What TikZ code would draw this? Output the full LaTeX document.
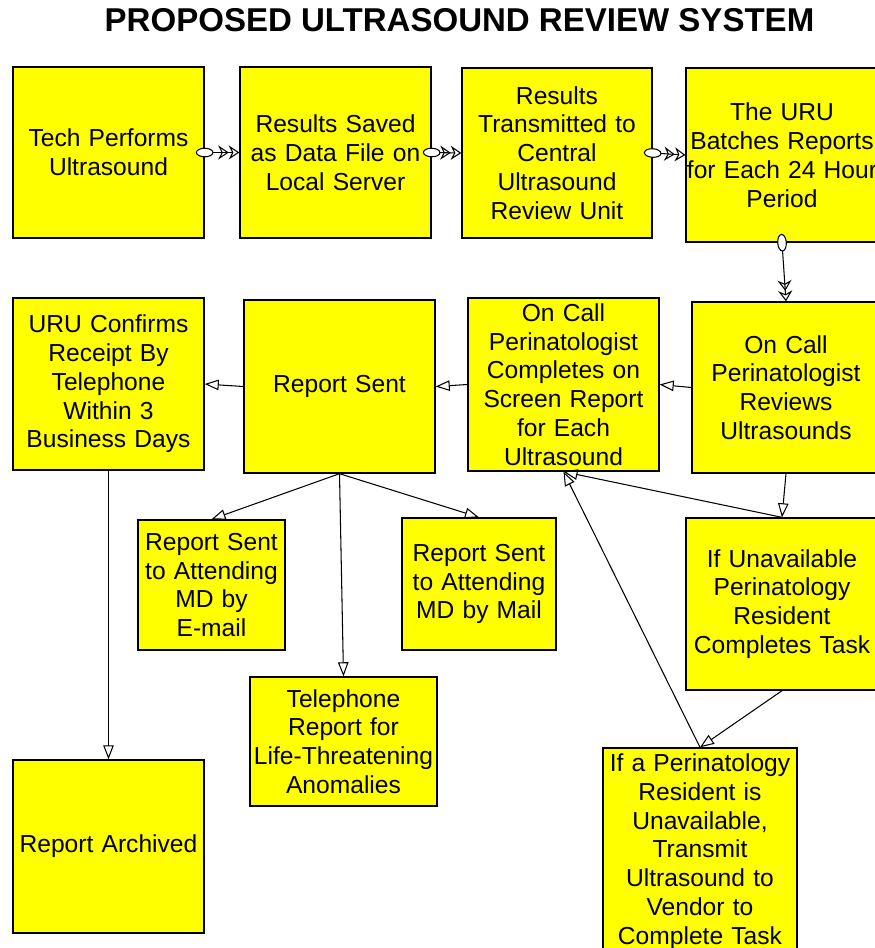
\documentclass[tikz,border=0pt]{standalone}
\usepackage{fontspec}
\setmainfont{Liberation Sans}
\usetikzlibrary{arrows.meta,shadows}
\definecolor{boxyellow}{RGB}{255,255,0}

\begin{document}
\begin{tikzpicture}[x=0.02cm, y=-0.02cm,
  box/.style 2 args={draw, line width=0.8pt, fill=boxyellow, inner sep=0pt,
    text width=#1, minimum height=#2, align=center,
    drop shadow={shadow xshift=0.7pt, shadow yshift=-0.7pt, fill=black!70, opacity=1},
    font=\fontsize{14}{16.4}\selectfont},
  link/.style={line width=0.6pt, shorten <=-5pt,
    {Ellipse[open, fill=white, length=10pt, width=5.5pt]}-{Stealth[open, length=6pt, width=8pt] Stealth[open, length=6pt, width=8pt]}},
  flow/.style={line width=0.6pt, -{Triangle[open, length=8pt, width=6pt]}}]
\useasboundingbox (0,0) rectangle (875,948);
\clip (0,0) rectangle (875,948);

\node (title) at (459.5,20) {\fontsize{18.8}{20}\selectfont\bfseries PROPOSED ULTRASOUND REVIEW SYSTEM};

% first row
\node (tech)[box={3.82cm}{3.42cm}] at (108.5,152.5) {Tech Performs\\Ultrasound};
\node (saved)[box={3.82cm}{3.42cm}] at (335.5,152.5) {Results Saved\\as Data File on\\Local Server};
\node (trans)[box={3.80cm}{3.40cm}] at (557,153) {Results\\Transmitted to\\Central\\Ultrasound\\Review Unit};
\node (batch)[box={3.84cm}{3.48cm}] at (782,155) {The URU\\Batches Reports\\for Each 24 Hour\\Period};

% second row
\node (confirm)[box={3.82cm}{3.44cm}] at (108.5,384) {URU Confirms\\Receipt By\\Telephone\\Within 3\\Business Days};
\node (sent)[box={3.82cm}{3.46cm}] at (339.5,386.5) {Report Sent};
\node (completes)[box={3.82cm}{3.46cm}] at (563.5,384.5) {On Call\\Perinatologist\\Completes on\\Screen Report\\for Each\\Ultrasound};
\node (reviews)[box={3.76cm}{3.42cm}] at (786,387.5) {On Call\\Perinatologist\\Reviews\\Ultrasounds};

% third row
\node (email)[box={2.94cm}{2.60cm}] at (211.5,585) {Report Sent\\to Attending\\MD by\\E-mail};
\node (mail)[box={3.08cm}{2.64cm}] at (479,584) {Report Sent\\to Attending\\MD by Mail};
\node (phone)[box={3.74cm}{2.58cm}] at (343.5,741.5) {Telephone\\Report for\\Life-Threatening\\Anomalies};
\node (resident)[box={3.84cm}{3.44cm}] at (782,604) {If Unavailable\\Perinatology\\Resident\\Completes Task};
\node (vendor)[box={3.88cm}{4.14cm}] at (700,851.5) {If a Perinatology\\Resident is\\Unavailable,\\Transmit\\Ultrasound to\\Vendor to\\Complete Task};
\node (archived)[box={3.82cm}{3.46cm}] at (108.5,846.5) {Report Archived};

\draw[link] (tech.east) -- (saved.west);
\draw[link] (saved.east) -- (trans.west);
\draw[link] (trans.east) -- (batch.west);
\draw[link] (batch.south) -- (reviews.north);
\draw[flow] (reviews.west) -- (completes.east);
\draw[flow] (completes.west) -- (sent.east);
\draw[flow] (sent.west) -- (confirm.east);
\draw[flow] (sent.south) -- (email.north);
\draw[flow] (sent.south) -- (phone.north);
\draw[flow] (sent.south) -- (mail.north);
\draw[flow] (confirm.south) -- (archived.north);
\draw[flow] (reviews.south) -- (resident.north);
\draw[flow] (resident.north) -- (completes.south);
\draw[flow] (resident.south) -- (vendor.north);
\draw[flow] (vendor.north) -- (completes.south);
\end{tikzpicture}
\end{document}
